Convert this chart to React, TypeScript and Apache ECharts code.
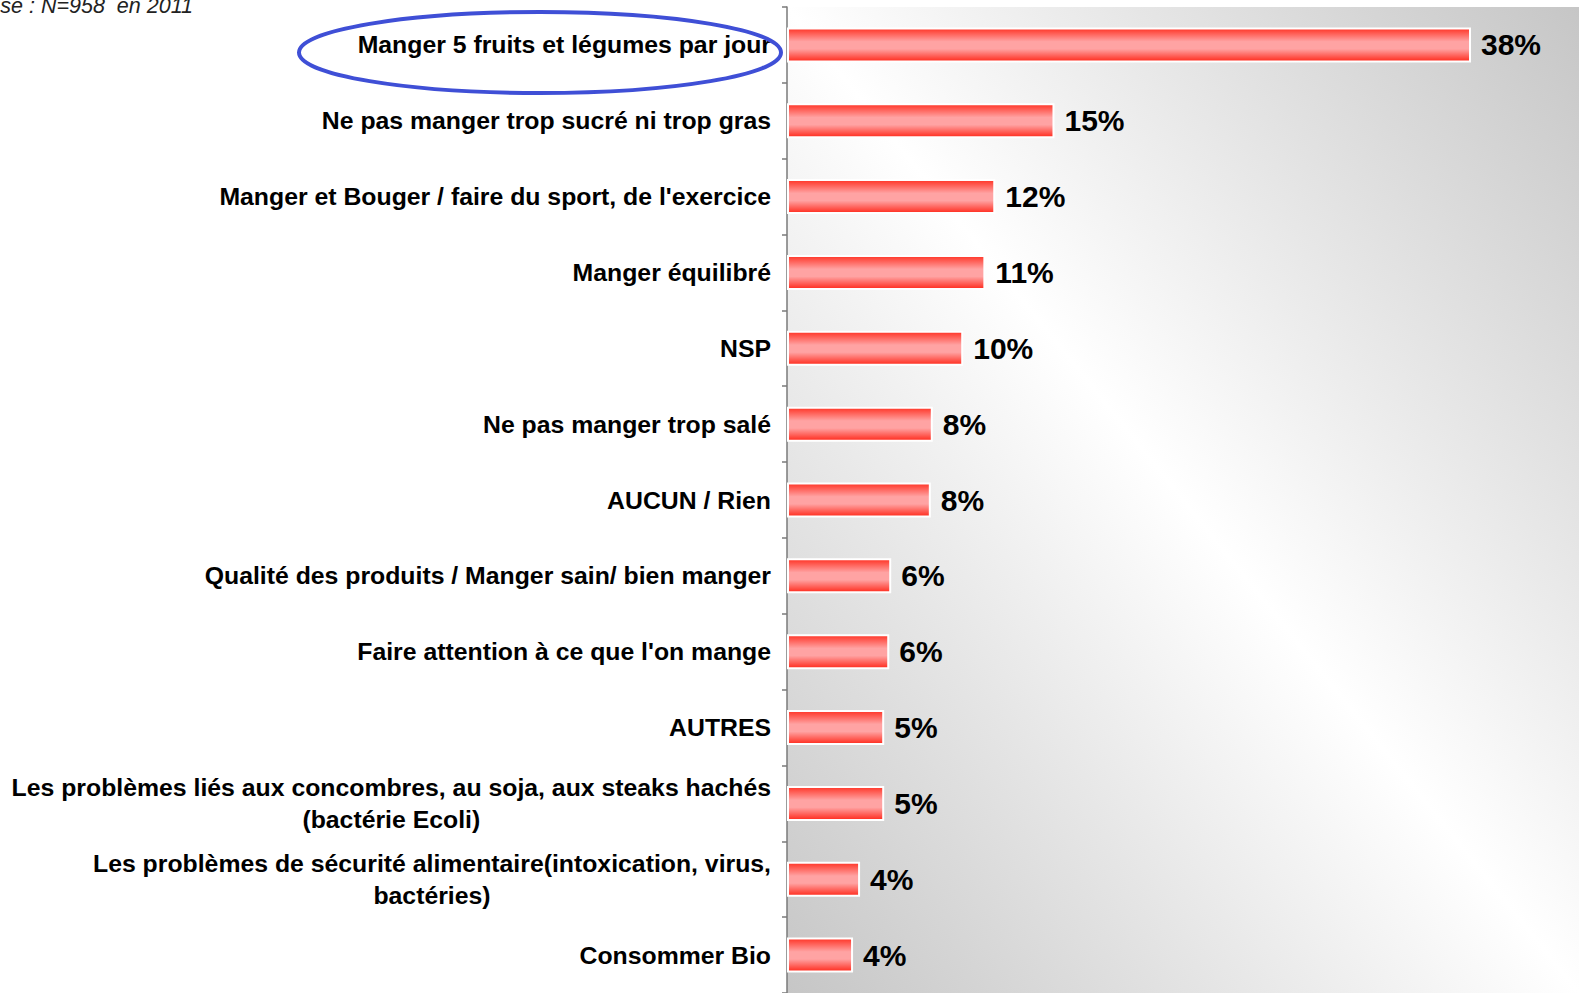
import React, { useEffect, useRef } from "react";
import * as echarts from "echarts";

const categories: string[] = [
  "Manger 5 fruits et légumes par jour",
  "Ne pas manger trop sucré ni trop gras",
  "Manger et Bouger / faire du sport, de l'exercice",
  "Manger équilibré",
  "NSP",
  "Ne pas manger trop salé",
  "AUCUN / Rien",
  "Qualité des produits / Manger sain/ bien manger",
  "Faire attention à ce que l'on mange",
  "AUTRES",
  "Les problèmes liés aux concombres, au soja, aux steaks hachés\n(bactérie Ecoli)",
  "Les problèmes de sécurité alimentaire(intoxication, virus,\nbactéries)",
  "Consommer Bio",
];

const values: number[] = [38, 14.86, 11.57, 11.02, 9.79, 8.1, 7.99, 5.79, 5.68, 5.4, 5.4, 4.06, 3.67];

const baseNote = "Base : N=958  en 2011";

const FONT = "'Liberation Sans', Arial, sans-serif";

export default function App() {
  const ref = useRef<HTMLDivElement>(null);
  useEffect(() => {
    if (!ref.current) return;
    const chart = echarts.init(ref.current, null, { renderer: "svg" });
    chart.setOption({
      animation: false,
      backgroundColor: "#ffffff",
      grid: {
        left: 787,
        right: 0,
        top: 7,
        bottom: -4,
        show: true,
        borderWidth: 0,
        backgroundColor: new echarts.graphic.LinearGradient(1, 0, 0, 1, [
          { offset: 0, color: "#c6c6c6" },
          { offset: 0.5, color: "#ffffff" },
          { offset: 1, color: "#c6c6c6" },
        ]),
      },
      xAxis: {
        type: "value",
        min: 0,
        max: 44,
        show: false,
      },
      yAxis: {
        type: "category",
        inverse: true,
        data: categories,
        axisLine: { show: true, lineStyle: { color: "#7a7a7a", width: 1.5 } },
        axisTick: { show: true, length: 5, lineStyle: { color: "#7a7a7a", width: 1.5 } },
        axisLabel: {
          margin: 16,
          align: "right",
          formatter: (v: string) =>
            v
              .split("\n")
              .map((l) => `{c|${l}}`)
              .join("\n"),
          rich: {
            c: {
              fontFamily: FONT,
              fontSize: 24.8,
              fontWeight: "bold",
              color: "#000000",
              lineHeight: 32,
              align: "center",
            },
          },
        },
      },
      series: [
        {
          type: "bar",
          data: values,
          barWidth: 35,
          itemStyle: {
            color: new echarts.graphic.LinearGradient(0, 0, 0, 1, [
              { offset: 0, color: "#ff3426" },
              { offset: 0.4, color: "#ffa3a3" },
              { offset: 0.62, color: "#ffa3a3" },
              { offset: 1, color: "#ff2a1c" },
            ]),
            borderColor: "#ffffff",
            borderWidth: 2,
          },
          label: {
            show: true,
            position: "right",
            distance: 10,
            formatter: (p: any) => `${Math.round(p.value)}%`,
            fontFamily: FONT,
            fontSize: 30,
            fontWeight: "bold",
            color: "#000000",
          },
        },
      ],
      graphic: [
        {
          type: "ellipse",
          shape: { cx: 540, cy: 52.5, rx: 241, ry: 40.5 },
          style: { fill: "none", stroke: "#3f4fd6", lineWidth: 4 },
          z: 100,
        },
        {
          type: "text",
          x: -26,
          y: -5,
          style: {
            text: baseNote,
            fontFamily: FONT,
            fontSize: 21.5,
            fontStyle: "italic",
            fill: "#222222",
            verticalAlign: "top",
          },
        },
      ],
    });
    return () => chart.dispose();
  }, []);
  return (
    <div
      ref={ref}
      style={{ position: "fixed", left: 0, top: 0, width: 1579, height: 993, background: "#fff" }}
    />
  );
}
